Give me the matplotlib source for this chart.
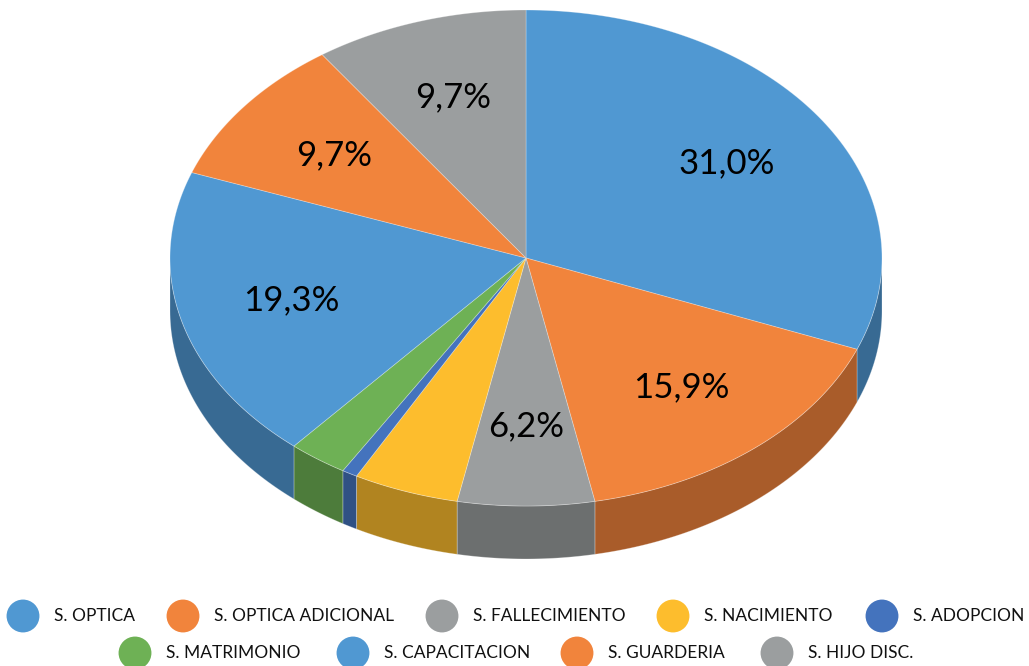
import numpy as np
import matplotlib.pyplot as plt
from matplotlib.patches import Polygon
from matplotlib.colors import to_rgb

labels = ["S. OPTICA", "S. OPTICA ADICIONAL", "S. FALLECIMIENTO", "S. NACIMIENTO",
          "S. ADOPCION", "S. MATRIMONIO", "S. CAPACITACION", "S. GUARDERIA", "S. HIJO DISC."]
values = [31.0, 15.9, 6.2, 4.8, 0.7, 2.7, 19.3, 9.7, 9.7]
colors = ["#5098D2", "#F1843C", "#9B9E9F", "#FDBD2D", "#4473BD", "#6EB155",
          "#5098D2", "#F1843C", "#9B9E9F"]

plt.rcParams["font.family"] = ["Lato", "DejaVu Sans"]

fig = plt.figure(figsize=(10.29, 6.66), dpi=100)
ax = fig.add_axes([0, 0, 1, 1])
ax.set_xlim(0, 1029)
ax.set_ylim(666, 0)
ax.axis("off")

# ellipse geometry (pixels)
cx, cy, rx, ry, depth = 526, 258, 356, 248, 53

def pt(t):
    r = np.radians(t)
    return cx + rx * np.cos(r), cy - ry * np.sin(r)

def darker(c, f=0.7):
    return tuple(v * f for v in to_rgb(c))

angles = 90 - np.concatenate([[0], np.cumsum(values)]) / sum(values) * 360

# side walls (front half only)
for i, c in enumerate(colors):
    a0, a1 = angles[i], angles[i + 1]
    lo, hi = max(a1, -180), min(a0, 0)
    if lo >= hi:
        continue
    t = np.linspace(hi, lo, 60)
    x, y = pt(t)
    xs = np.concatenate([x, x[::-1]])
    ys = np.concatenate([y, y[::-1] + depth])
    ax.add_patch(Polygon(np.column_stack([xs, ys]), closed=True, facecolor=darker(c),
                         edgecolor=(1, 1, 1, 0.3), lw=0.6))

# top face
for i, c in enumerate(colors):
    a0, a1 = angles[i], angles[i + 1]
    t = np.linspace(a0, a1, 100)
    x, y = pt(t)
    xs = np.concatenate([[cx], x])
    ys = np.concatenate([[cy], y])
    ax.add_patch(Polygon(np.column_stack([xs, ys]), closed=True, facecolor=c,
                         edgecolor=(1, 1, 1, 0.3), lw=0.6))
    if values[i] >= 5:
        mid = np.radians((a0 + a1) / 2)
        lx = cx + 0.68 * rx * np.cos(mid)
        ly = cy - 0.68 * ry * np.sin(mid)
        ax.text(lx, ly, f"{values[i]:.1f}%".replace(".", ","), ha="center", va="center",
                fontsize=25, color="black")

# legend (two rows, like the original)
leg_pos = [(23, 616), (183, 616), (442, 616), (673, 616), (882, 616),
           (135, 653), (353, 653), (577, 653), (777, 653)]
for (x, y), lab, c in zip(leg_pos, labels, colors):
    ax.scatter([x], [y], s=560, color=c, edgecolors="none")
    ax.text(x + 31, y, lab, ha="left", va="center", fontsize=12.5, color="#111111")

fig.savefig("out.png", dpi=100)
